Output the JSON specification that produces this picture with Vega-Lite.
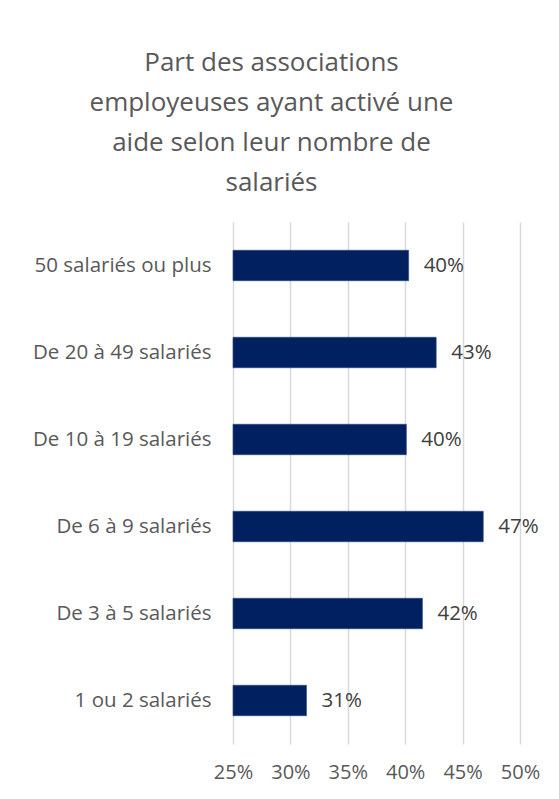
{
  "$schema": "https://vega.github.io/schema/vega-lite/v6.json",
  "autosize": {"type": "none"},
  "padding": {"left": 233, "top": 222, "right": 39, "bottom": 55},
  "width": 287,
  "height": 522,
  "background": "white",
  "title": {
    "text": ["Part des associations", "employeuses ayant activé une", "aide selon leur nombre de", "salariés"],
    "font": "Open Sans",
    "fontSize": 26,
    "fontWeight": "normal",
    "color": "#595959",
    "lineHeight": 40,
    "anchor": "middle",
    "frame": "group",
    "dx": -105,
    "offset": 26
  },
  "data": {
    "values": [
      {"categorie": "50 salariés ou plus", "part": 0.403},
      {"categorie": "De 20 à 49 salariés", "part": 0.427},
      {"categorie": "De 10 à 19 salariés", "part": 0.401},
      {"categorie": "De 6 à 9 salariés", "part": 0.468},
      {"categorie": "De 3 à 5 salariés", "part": 0.415},
      {"categorie": "1 ou 2 salariés", "part": 0.314}
    ]
  },
  "config": {
    "view": {"stroke": null},
    "font": "Open Sans"
  },
  "encoding": {
    "y": {
      "field": "categorie",
      "type": "nominal",
      "sort": null,
      "title": null,
      "scale": {"paddingInner": 0.65, "paddingOuter": 0.325},
      "axis": {
        "ticks": false,
        "domain": false,
        "labelFont": "Open Sans",
        "labelFontSize": 20.5,
        "labelColor": "#595959",
        "labelPadding": 22,
        "labelLimit": 300
      }
    },
    "x": {
      "field": "part",
      "type": "quantitative",
      "title": null,
      "scale": {"domain": [0.25, 0.5], "nice": false, "zero": false},
      "axis": {
        "values": [0.25, 0.3, 0.35, 0.4, 0.45, 0.5],
        "format": ".0%",
        "ticks": false,
        "domain": false,
        "grid": true,
        "gridColor": "#d9d9d9",
        "gridWidth": 1.5,
        "labelFont": "Open Sans",
        "labelFontSize": 20,
        "labelColor": "#595959",
        "labelPadding": 18,
        "labelOverlap": false,
        "labelFlush": false,
        "labelBound": false
      }
    }
  },
  "layer": [
    {
      "mark": {"type": "bar", "color": "#002060", "stroke": "#2a4680", "strokeWidth": 0.6},
      "encoding": {"x2": {"datum": 0.25}}
    },
    {
      "mark": {"type": "text", "align": "left", "baseline": "middle", "dx": 15, "font": "Open Sans", "fontSize": 20.5, "color": "#404040"},
      "encoding": {
        "text": {"field": "part", "type": "quantitative", "format": ".0%"}
      }
    }
  ]
}
